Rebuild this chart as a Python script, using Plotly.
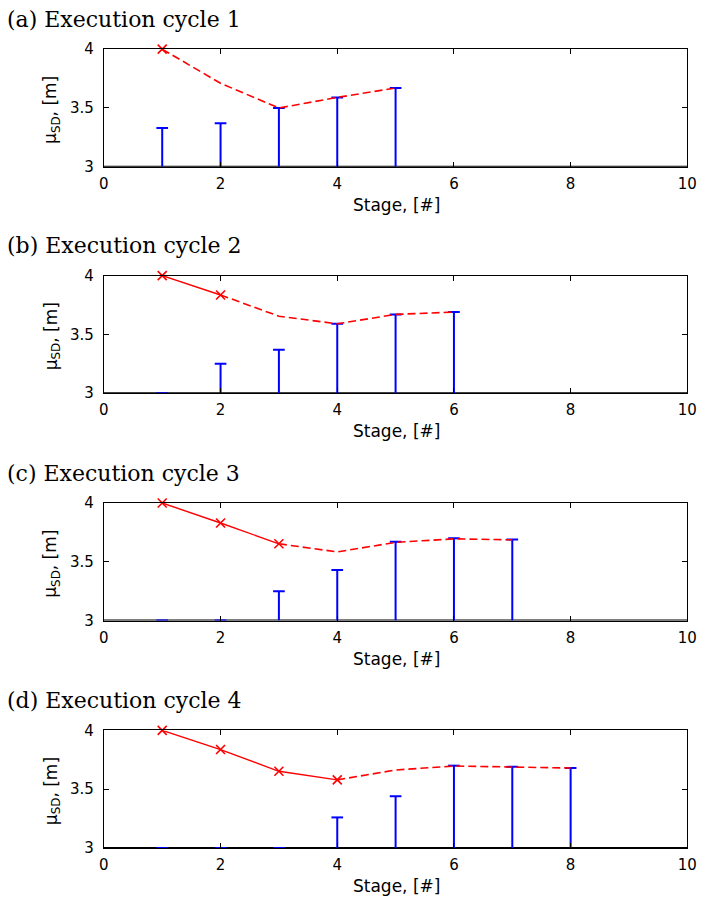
import plotly.graph_objects as go

# Stage indices and measured depth per execution cycle
stages_a = [1, 2, 3, 4, 5]
bars_a = [3.33, 3.37, 3.50, 3.59, 3.67]
stages_b = [1, 2, 3, 4, 5, 6]
bars_b = [3.00, 3.25, 3.37, 3.59, 3.67, 3.69]
stages_c = [1, 2, 3, 4, 5, 6, 7]
bars_c = [3.00, 3.00, 3.25, 3.43, 3.67, 3.70, 3.69]
stages_d = [1, 2, 3, 4, 5, 6, 7, 8]
bars_d = [3.00, 3.00, 3.00, 3.26, 3.44, 3.70, 3.69, 3.68]

# Executed (solid, marked) and predicted (dashed) mean depth
done_x_a = [1]
done_y_a = [4.00]
pred_x_a = [1, 2, 3, 4, 5]
pred_y_a = [4.00, 3.71, 3.50, 3.59, 3.67]

done_x_b = [1, 2]
done_y_b = [4.00, 3.835]
pred_x_b = [2, 3, 4, 5, 6]
pred_y_b = [3.835, 3.655, 3.59, 3.67, 3.69]

done_x_c = [1, 2, 3]
done_y_c = [4.00, 3.83, 3.653]
pred_x_c = [3, 4, 5, 6, 7]
pred_y_c = [3.653, 3.584, 3.665, 3.695, 3.687]

done_x_d = [1, 2, 3, 4]
done_y_d = [4.00, 3.837, 3.652, 3.579]
pred_x_d = [4, 5, 6, 7, 8]
pred_y_d = [3.579, 3.663, 3.697, 3.69, 3.68]

titles = ["(a) Execution cycle 1", "(b) Execution cycle 2",
          "(c) Execution cycle 3", "(d) Execution cycle 4"]
x_ticks = [0, 2, 4, 6, 8, 10]
y_ticks = [3, 3.5, 4]
x_label = "Stage, [#]"
y_label = "μ<sub>SD</sub>, [m]"

panels = [
    (stages_a, bars_a, done_x_a, done_y_a, pred_x_a, pred_y_a),
    (stages_b, bars_b, done_x_b, done_y_b, pred_x_b, pred_y_b),
    (stages_c, bars_c, done_x_c, done_y_c, pred_x_c, pred_y_c),
    (stages_d, bars_d, done_x_d, done_y_d, pred_x_d, pred_y_d),
]

# The page body keeps its default 8px margin; the figure starts there and
# reaches the window edge. Positions below are given in window pixels.
OFF = 8
W, H = 720 - OFF, 922 - 2 * OFF
BASE = 3.0
CAP = 0.1
X0, X1 = 109, 705
PANEL_TOPS = [49, 280, 512, 744]
PH = 120


def px_x(v):
    return (v - OFF) / W


def px_y(v):
    return 1 - (v - OFF) / H


fig = go.Figure()
annotations = []
shapes = []

for i, (st, bv, dx, dy, px, py) in enumerate(panels):
    n = i + 1
    xa = "x" if n == 1 else f"x{n}"
    ya = "y" if n == 1 else f"y{n}"
    top = PANEL_TOPS[i]
    bot = top + PH

    # stems with caps
    sx, sy = [], []
    for s, v in zip(st, bv):
        sx += [s, s, None, s - CAP, s + CAP, None]
        sy += [BASE, v, None, v, v, None]
    fig.add_trace(go.Scatter(x=sx, y=sy, mode="lines", xaxis=xa, yaxis=ya,
                             line=dict(color="#0000ff", width=2),
                             showlegend=False, hoverinfo="skip", cliponaxis=False))
    # predicted path
    fig.add_trace(go.Scatter(x=px, y=py, mode="lines", xaxis=xa, yaxis=ya,
                             line=dict(color="#ff0000", width=1.6, dash="8px,4px"),
                             showlegend=False, hoverinfo="skip"))
    # executed path
    fig.add_trace(go.Scatter(x=dx, y=dy, mode="lines+markers", xaxis=xa, yaxis=ya,
                             line=dict(color="#ff0000", width=1.4),
                             marker=dict(symbol="x-thin", size=9,
                                         line=dict(color="#ff0000", width=1.6)),
                             showlegend=False, hoverinfo="skip", cliponaxis=False))

    axis_common = dict(showgrid=False, zeroline=False, showline=True, mirror="ticks",
                       linecolor="#000000", linewidth=1, ticks="inside", ticklen=5,
                       tickcolor="#000000", ticklabeloverflow="allow",
                       tickfont=dict(family="DejaVu Sans", size=15, color="#000000"))
    fig.layout[f"xaxis{'' if n == 1 else n}"] = dict(
        axis_common, domain=[px_x(X0), px_x(X1)], range=[0, 10], tickvals=x_ticks,
        anchor=ya, ticklabelstandoff=3)
    fig.layout[f"yaxis{'' if n == 1 else n}"] = dict(
        axis_common, domain=[px_y(bot), px_y(top)], range=[3, 4], tickvals=y_ticks,
        ticktext=["3", "3.5", "4"], anchor=xa, ticklabelstandoff=6)

    # heavy baseline at the floor of the axis
    shapes.append(dict(type="line", xref=xa, yref=ya, x0=0, x1=10, y0=BASE, y1=BASE,
                       line=dict(color="#000000", width=2), layer="below"))

    annotations.append(dict(text=titles[i], xref="paper", yref="paper",
                            x=px_x(8), y=px_y(top - 30.5), xanchor="left",
                            yanchor="middle", showarrow=False,
                            font=dict(family="DejaVu Serif", size=22, color="#000000")))
    annotations.append(dict(text=x_label, xref="paper", yref="paper",
                            x=px_x(408), y=px_y(bot + 39), xanchor="center",
                            yanchor="middle", showarrow=False,
                            font=dict(family="DejaVu Sans", size=17, color="#000000")))
    annotations.append(dict(text=y_label, xref="paper", yref="paper",
                            x=px_x(56), y=px_y(top + PH / 2 + 2), xanchor="center",
                            yanchor="middle", textangle=-90, showarrow=False,
                            font=dict(family="DejaVu Sans", size=17, color="#000000")))

fig.update_layout(width=W, height=H, margin=dict(l=0, r=0, t=0, b=0),
                  paper_bgcolor="#ffffff", plot_bgcolor="#ffffff",
                  annotations=annotations, shapes=shapes)

fig.write_html("out.html")
